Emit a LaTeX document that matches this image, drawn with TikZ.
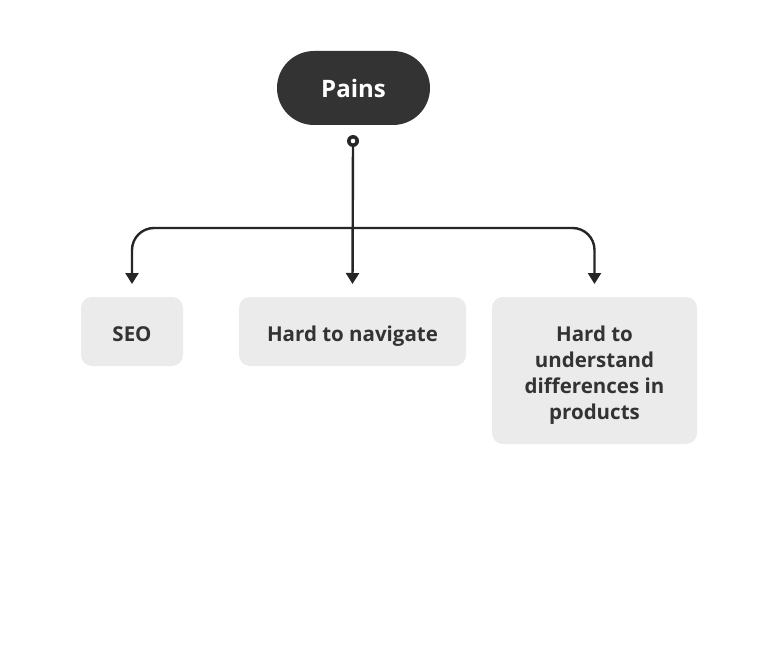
\documentclass[tikz,border=0pt]{standalone}
\usepackage{fontspec}
\setmainfont{Open Sans}
\usetikzlibrary{arrows.meta}
\definecolor{dark}{HTML}{333333}
\definecolor{boxfill}{HTML}{EBEBEB}
\begin{document}
\begin{tikzpicture}[x=1pt,y=-1pt,
  card/.style={fill=boxfill, rounded corners=11pt, inner sep=0pt},
  cardtext/.style={text=dark, font=\fontsize{20.5}{26}\selectfont\bfseries, align=center, inner sep=0pt, anchor=base},
  conn/.style={draw=black!85, line width=2.4pt, -{Triangle[length=11pt,width=13pt]}},
]
\useasboundingbox (0,0) rectangle (773,666);
\fill[white] (0,0) rectangle (773,666);
% top pill
\node[fill=dark, rounded corners=37pt, minimum width=153pt, minimum height=74pt, inner sep=0pt] (pains) at (353.5,88) {};
\node[text=white, font=\fontsize{24}{28}\selectfont\bfseries, inner sep=0pt, anchor=base] (painst) at (353.5,97.5) {Pains};
% boxes
\node[card, minimum width=102pt, minimum height=69pt] (seo) at (132,331.5) {};
\node[card, minimum width=227pt, minimum height=69pt] (nav) at (352.5,331.5) {};
\node[card, minimum width=205pt, minimum height=147pt] (diff) at (594.5,370.5) {};
\node[cardtext] (seot) at (132,341) {SEO};
\node[cardtext] (navt) at (352.5,341) {Hard to navigate};
\node[cardtext] (difft) at (594.5,419) {Hard to\\understand\\differences in\\products};
% connector
\coordinate (dot) at (353,141);
\coordinate (bar) at (353,228);
\draw[conn, rounded corners=22pt] (bar) -- (seo.north |- bar) -- (seo.north |- 0,284);
\draw[conn, rounded corners=22pt] (bar) -- (diff.north |- bar) -- (diff.north |- 0,284);
\draw[conn] (dot) -- (nav.north |- 0,284);
\fill[black!85] (dot) circle (6pt);
\fill[white] (dot) circle (2.3pt);
\end{tikzpicture}
\end{document}
